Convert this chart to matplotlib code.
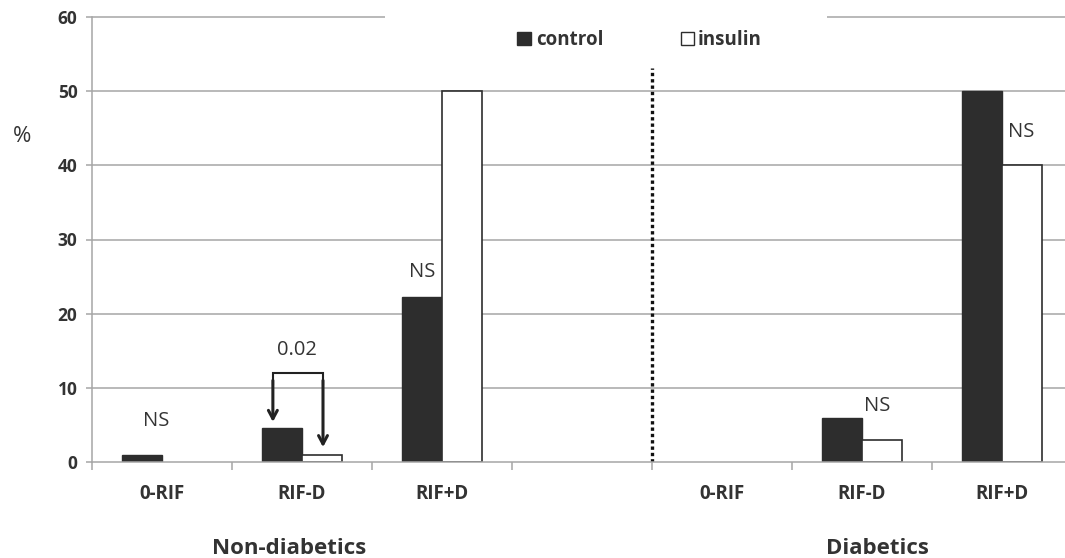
import numpy as np
import matplotlib
matplotlib.use("Agg")
import matplotlib.pyplot as plt
from matplotlib.patches import Rectangle

plt.rcParams['font.family'] = ['Open Sans', 'DejaVu Sans']

categories = ["0-RIF", "RIF-D", "RIF+D", "", "0-RIF", "RIF-D", "RIF+D"]
control = [1.0, 4.6, 22.2, np.nan, 0.0, 6.0, 50.0]
insulin = [0.0, 0.9, 50.0, np.nan, 0.0, 3.0, 40.0]
group_labels = ["Non-diabetics", "Diabetics"]
series_names = ["control", "insulin"]
annotations = [  # (x position in category units, y value, text)
    (-0.04, 5.5, "NS"),
    (1.857, 25.6, "NS"),
    (5.107, 7.55, "NS"),
    (6.136, 44.5, "NS"),
]
pvalue_text = "0.02"

TEXT = "#333333"
GRID = "#a6a6a6"
DARK = "#2d2d2d"

fig = plt.figure(figsize=(10.65, 5.58), dpi=100)
ax = fig.add_axes([92 / 1065, 96 / 558, 980 / 1065, 445 / 558])

x = np.arange(len(categories))
w = 0.286
c_lw = [0 if (np.isnan(v) or v == 0) else 1.0 for v in control]
i_lw = [0 if (np.isnan(v) or v == 0) else 1.2 for v in insulin]
ax.bar(x - w / 2, control, width=w, color=DARK, edgecolor=DARK, linewidth=c_lw, zorder=3)
ax.bar(x + w / 2, insulin, width=w, color="white", edgecolor=DARK, linewidth=i_lw, zorder=3)

ax.set_xlim(-0.5, len(categories) - 0.5)
ax.set_ylim(0, 60)

# grid lines
for yv in [10, 20, 30, 40, 50]:
    ax.axhline(yv, color=GRID, lw=1.1, zorder=1)
ax.hlines(60, -0.5, 1.593, color=GRID, lw=1.1, zorder=1, clip_on=False)
ax.hlines(60, 4.75, 6.5, color=GRID, lw=1.1, zorder=1, clip_on=False)

for s in ["top", "right"]:
    ax.spines[s].set_visible(False)
for s in ["left", "bottom"]:
    ax.spines[s].set_color(GRID)
    ax.spines[s].set_linewidth(1.1)
ax.spines["bottom"].set_zorder(4)

ax.set_yticks([0, 10, 20, 30, 40, 50, 60])
ax.tick_params(axis="y", length=4.5, color=GRID, width=1.1, pad=6,
               labelsize=12.5, labelcolor=TEXT)
for lab in ax.get_yticklabels():
    lab.set_fontweight("bold")

ax.set_xticks(x)
ax.set_xticklabels(categories, fontsize=13.5, fontweight="bold", color=TEXT)
ax.tick_params(axis="x", which="major", length=0, pad=16)
ax.set_xticks(np.arange(-0.5, len(categories) + 0.5, 1), minor=True)
ax.tick_params(axis="x", which="minor", length=6, color=GRID, width=1.1)

# dotted separator
ax.plot([3.5, 3.5], [0, 53.1], color="#111111", lw=2.4, linestyle=(0, (1, 0.9)),
        zorder=4, solid_capstyle="butt", dash_capstyle="butt")

# group labels
fig.text(289 / 1065, 1 - 548 / 558, group_labels[0], ha="center", va="center",
         fontsize=16, fontweight="bold", color=TEXT)
fig.text(877 / 1065, 1 - 549 / 558, group_labels[1], ha="center", va="center",
         fontsize=16, fontweight="bold", color=TEXT)
fig.text(22 / 1065, 1 - 137 / 558, "%", ha="center", va="center",
         fontsize=16, color=TEXT)

# legend (manual)
fig.patches.append(Rectangle((517 / 1065, 1 - 45 / 558), 14 / 1065, 13 / 558,
                             transform=fig.transFigure, facecolor=DARK, edgecolor=DARK, lw=1))
fig.text(536 / 1065, 1 - 40 / 558, series_names[0], ha="left", va="center",
         fontsize=13.5, fontweight="bold", color=TEXT)
fig.patches.append(Rectangle((681 / 1065, 1 - 45 / 558), 13 / 1065, 13 / 558,
                             transform=fig.transFigure, facecolor="white", edgecolor=DARK, lw=1))
fig.text(698 / 1065, 1 - 40 / 558, series_names[1], ha="left", va="center",
         fontsize=13.5, fontweight="bold", color=TEXT)

# NS annotations
for xp, yv, t in annotations:
    ax.text(xp, yv, t, ha="center", va="center", fontsize=14.5, color=TEXT, zorder=5)

# p-value bracket over RIF-D non-diabetic
bx_l = 1 - w / 2 - 0.065
bx_r = 1 + w / 2 + 0.007
by = 12.0
ax.plot([bx_l, bx_l, bx_r, bx_r], [by - 1.5, by, by, by - 1.5], color="#222222", lw=1.5, zorder=5,
        solid_joinstyle="miter")
for tip in [control[1] + 0.8, insulin[1] + 1.1]:
    xx = bx_l if tip > 3 else bx_r
    ax.annotate("", xy=(xx, tip), xytext=(xx, by - 1.0),
                arrowprops=dict(arrowstyle="->,head_length=0.6,head_width=0.32", color="#222222",
                                lw=2.2, shrinkA=0, shrinkB=0), zorder=5)
ax.text((bx_l + bx_r) / 2 - 0.01, 15.1, pvalue_text, ha="center", va="center",
        fontsize=14.5, color=TEXT, zorder=5)

fig.savefig("out.png", dpi=100)
